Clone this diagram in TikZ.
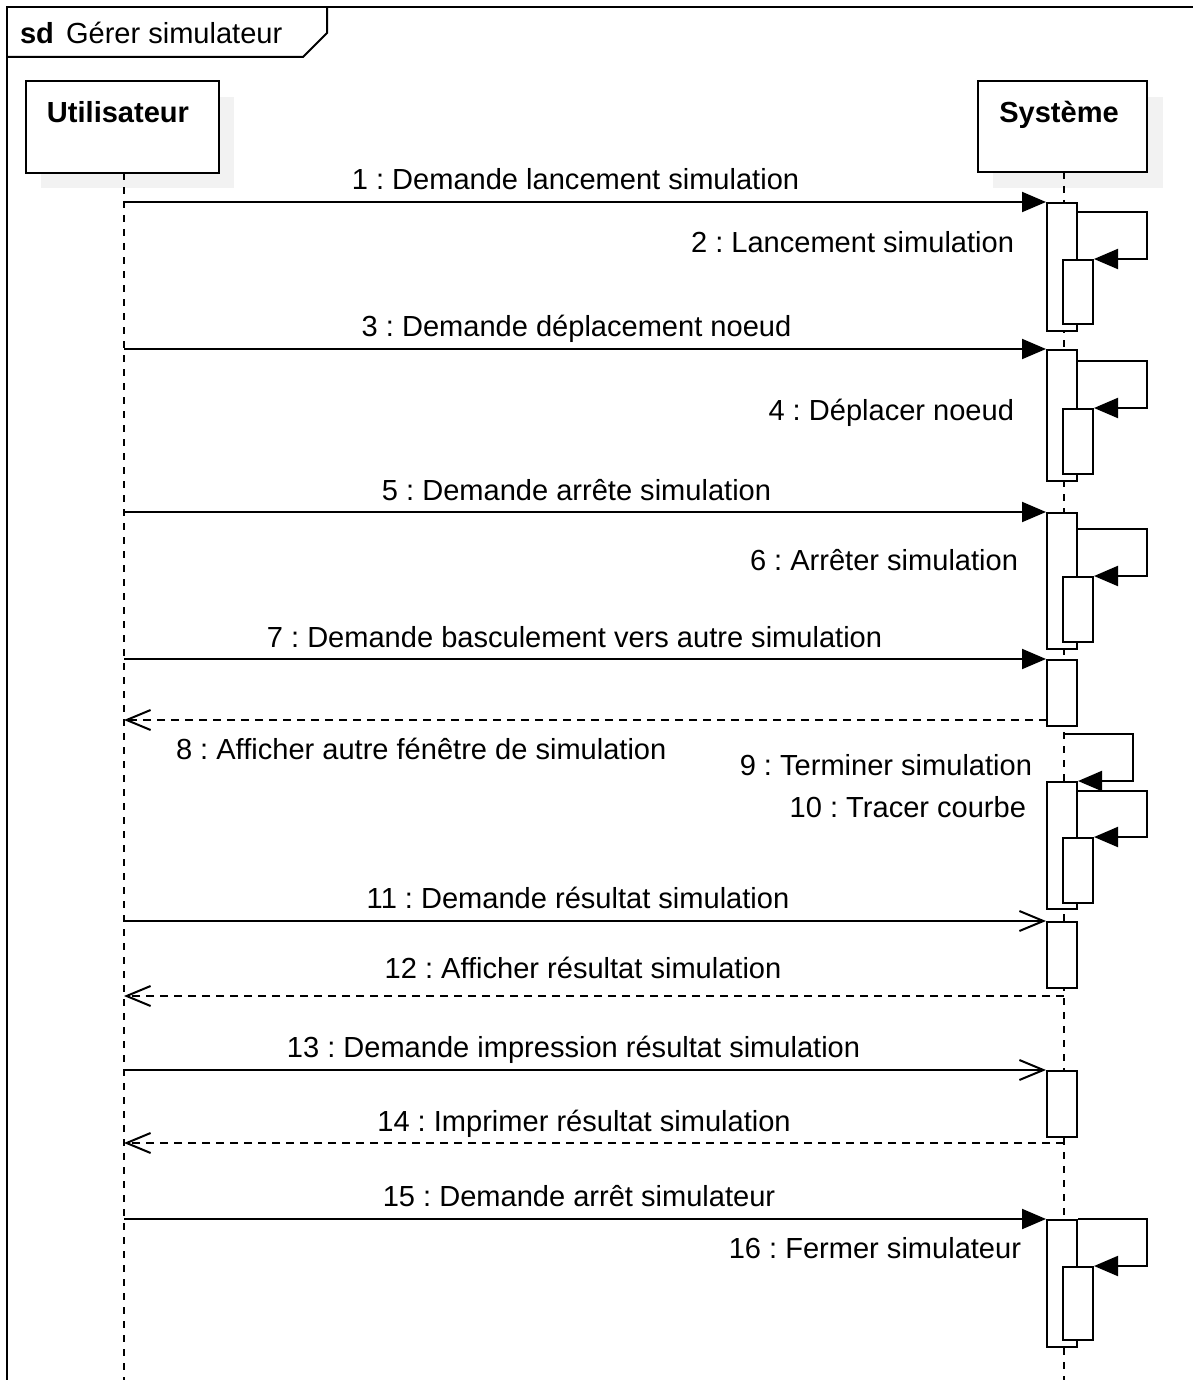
\documentclass[tikz,border=0pt]{standalone}
\usepackage{fontspec}
\setmainfont{Liberation Sans}
\usetikzlibrary{arrows.meta,calc}
\frenchspacing

\definecolor{shadowgray}{HTML}{F2F2F2}

\tikzset{
  txt/.style={font=\fontsize{29.05}{34}\selectfont, inner sep=0pt},
  head/.style={draw, fill=white, inner sep=0pt, anchor=north west},
  lifeline/.style={dash pattern=on 7pt off 7pt},
  actbar/.style={draw, fill=white, inner sep=0pt, minimum width=30pt, anchor=north},
  syncmsg/.style={-{Triangle[length=24pt,width=20pt]}},
  callmsg/.style={-{Straight Barb[length=24pt,width=20pt]}},
  replymsg/.style={-{Straight Barb[length=24pt,width=20pt]}, dash pattern=on 8pt off 6pt},
}

\begin{document}
\begin{tikzpicture}[x=1pt, y=-1pt, line width=2pt, line join=miter]
\useasboundingbox (0,0) rectangle (1192,1380);

% diagram frame and its title tab
\draw (7,1386) -- (7,7) -- (1198,7);
\draw (7,57) -- (303,57) -- (327,33) -- (327,7);
\node[txt, anchor=base west] (sd) at (19,44) {\bfseries sd};
\node[txt, anchor=base west] (title) at (65,44) {Gérer simulateur};

% lifeline heads with their shadows
\fill[shadowgray] (41,97) rectangle (234,188);
\fill[shadowgray] (993,97) rectangle (1163,188);
\node[head, minimum width=193pt, minimum height=92pt] (user) at (25,80) {};
\node[head, minimum width=169pt, minimum height=91pt] (sys) at (977,80) {};
\node[txt, anchor=base] (userlbl) at (118,123) {\bfseries Utilisateur};
\node[txt, anchor=base] (syslbl) at (1059,123) {\bfseries Système};

% lifelines
\coordinate (uTop) at (124,173);
\coordinate (uBot) at (124,1386);
\coordinate (sTop) at (1064,172);
\coordinate (sBot) at (1064,1386);
\draw[lifeline] (uTop) -- (uBot);
\draw[lifeline] (sTop) -- (sBot);

% activation bars (outer, then nested)
\node[actbar, minimum height=128pt] (a1) at (1062,202) {};
\node[actbar, minimum height=64pt] (a1n) at (1078,259) {};
\node[actbar, minimum height=131pt] (a2) at (1062,349) {};
\node[actbar, minimum height=65pt] (a2n) at (1078,408) {};
\node[actbar, minimum height=136pt] (a3) at (1062,512) {};
\node[actbar, minimum height=65pt] (a3n) at (1078,576) {};
\node[actbar, minimum height=66pt] (a4) at (1062,659) {};
\node[actbar, minimum height=127pt] (a5) at (1062,781) {};
\node[actbar, minimum height=65pt] (a5n) at (1078,837) {};
\node[actbar, minimum height=66pt] (a6) at (1062,921) {};
\node[actbar, minimum height=66pt] (a7) at (1062,1070) {};
\node[actbar, minimum height=127pt] (a8) at (1062,1219) {};
\node[actbar, minimum height=73pt] (a8n) at (1078,1266) {};

% message endpoints on the user lifeline
\coordinate (u1) at (124,202);
\coordinate (u3) at (124,349);
\coordinate (u5) at (124,512);
\coordinate (u7) at (124,659);
\coordinate (u8) at (124,720);
\coordinate (u11) at (124,921);
\coordinate (u12) at (124,996);
\coordinate (u13) at (124,1070);
\coordinate (u14) at (124,1143);
\coordinate (u15) at (124,1219);
% reply starts on the system side
\coordinate (s8) at (1047,720);
\coordinate (s12) at (1064,996);
\coordinate (s14) at (1064,1143);
\coordinate (s9) at (1064,734);

% messages
\draw[syncmsg] (u1) -- (a1.north west);
\draw[syncmsg] (a1.east |- 0,212) -- (1147,212) -- (1147,259) -- (a1n.north east);
\draw[syncmsg] (u3) -- (a2.north west);
\draw[syncmsg] (a2.east |- 0,361) -- (1147,361) -- (1147,408) -- (a2n.north east);
\draw[syncmsg] (u5) -- (a3.north west);
\draw[syncmsg] (a3.east |- 0,529) -- (1147,529) -- (1147,576) -- (a3n.north east);
\draw[syncmsg] (u7) -- (a4.north west);
\draw[replymsg] (s8) -- (u8);
\draw[syncmsg] (s9) -- (1133,734) -- (1133,781) -- (a5.north east);
\draw[syncmsg] (a5.east |- 0,791) -- (1147,791) -- (1147,837) -- (a5n.north east);
\draw[callmsg] (u11) -- (a6.north west);
\draw[replymsg] (s12) -- (u12);
\draw[callmsg] (u13) -- (a7.north west);
\draw[replymsg] (s14) -- (u14);
\draw[syncmsg] (u15) -- (a8.north west);
\draw[syncmsg] (a8.east |- 0,1219) -- (1147,1219) -- (1147,1266) -- (a8n.north east);

% message labels
\node[txt, anchor=base] (l1) at (575.5,190) {1 : Demande lancement simulation};
\node[txt, anchor=base east] (l2) at (1015,252) {2 : Lancement simulation};
\node[txt, anchor=base] (l3) at (576.5,336) {3 : Demande déplacement noeud};
\node[txt, anchor=base east] (l4) at (1015,420) {4 : Déplacer noeud};
\node[txt, anchor=base] (l5) at (576.5,500) {5 : Demande arrête simulation};
\node[txt, anchor=base east] (l6) at (1019,570) {6 : Arrêter simulation};
\node[txt, anchor=base] (l7) at (574.5,647) {7 : Demande basculement vers autre simulation};
\node[txt, anchor=base west] (l8) at (175,759) {8 : Afficher autre fénêtre de simulation};
\node[txt, anchor=base east] (l9) at (1033,775) {9 : Terminer simulation};
\node[txt, anchor=base east] (l10) at (1027,817) {10 : Tracer courbe};
\node[txt, anchor=base] (l11) at (578,908) {11 : Demande résultat simulation};
\node[txt, anchor=base] (l12) at (583,978) {12 : Afficher résultat simulation};
\node[txt, anchor=base] (l13) at (573.5,1057) {13 : Demande impression résultat simulation};
\node[txt, anchor=base] (l14) at (584,1131) {14 : Imprimer résultat simulation};
\node[txt, anchor=base] (l15) at (579,1206) {15 : Demande arrêt simulateur};
\node[txt, anchor=base east] (l16) at (1022,1258) {16 : Fermer simulateur};
\end{tikzpicture}
\end{document}
